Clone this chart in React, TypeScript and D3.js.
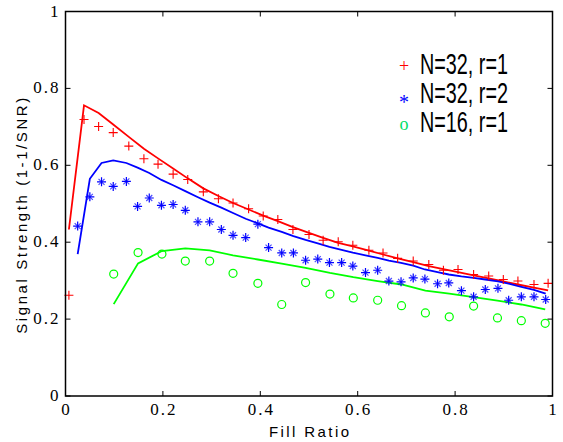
import React from 'react';
import * as d3 from 'd3';

// fill ratio positions of each series
const redX = [0.007, 0.038, 0.068, 0.098, 0.130, 0.161, 0.190, 0.221, 0.251, 0.283, 0.314, 0.344, 0.376, 0.406, 0.436, 0.467, 0.500, 0.529, 0.560, 0.590, 0.623, 0.652, 0.682, 0.714, 0.746, 0.776, 0.806, 0.838, 0.869, 0.899, 0.929, 0.962, 0.991];
const redMarks = [0.262, 0.719, 0.701, 0.685, 0.650, 0.617, 0.603, 0.577, 0.563, 0.531, 0.513, 0.502, 0.487, 0.468, 0.459, 0.433, 0.420, 0.405, 0.401, 0.392, 0.379, 0.372, 0.358, 0.351, 0.342, 0.327, 0.329, 0.316, 0.312, 0.303, 0.299, 0.290, 0.293];
const redLine = [0.433, 0.756, 0.736, 0.706, 0.674, 0.643, 0.618, 0.592, 0.566, 0.540, 0.520, 0.502, 0.485, 0.469, 0.455, 0.439, 0.424, 0.411, 0.398, 0.389, 0.378, 0.368, 0.358, 0.348, 0.338, 0.330, 0.322, 0.314, 0.306, 0.298, 0.290, 0.282, 0.275];

const blueX = [0.025, 0.050, 0.074, 0.098, 0.125, 0.148, 0.172, 0.197, 0.221, 0.246, 0.272, 0.296, 0.320, 0.344, 0.370, 0.395, 0.417, 0.444, 0.468, 0.493, 0.518, 0.542, 0.567, 0.590, 0.616, 0.641, 0.664, 0.689, 0.714, 0.738, 0.764, 0.787, 0.813, 0.838, 0.862, 0.888, 0.910, 0.936, 0.962, 0.986];
const blueMarks = [0.442, 0.518, 0.557, 0.545, 0.558, 0.493, 0.515, 0.496, 0.498, 0.483, 0.453, 0.453, 0.433, 0.418, 0.412, 0.447, 0.386, 0.372, 0.372, 0.353, 0.356, 0.347, 0.347, 0.338, 0.321, 0.327, 0.299, 0.297, 0.307, 0.304, 0.292, 0.294, 0.274, 0.258, 0.277, 0.280, 0.249, 0.258, 0.258, 0.251];
const blueLine = [0.369, 0.565, 0.606, 0.613, 0.606, 0.594, 0.580, 0.562, 0.548, 0.533, 0.517, 0.503, 0.490, 0.476, 0.461, 0.449, 0.438, 0.427, 0.416, 0.406, 0.397, 0.388, 0.380, 0.373, 0.366, 0.359, 0.352, 0.346, 0.339, 0.329, 0.322, 0.316, 0.311, 0.307, 0.303, 0.298, 0.292, 0.284, 0.276, 0.266];

const greenX = [0.099, 0.149, 0.198, 0.246, 0.296, 0.344, 0.395, 0.444, 0.493, 0.543, 0.591, 0.641, 0.690, 0.739, 0.788, 0.838, 0.887, 0.936, 0.985];
const greenMarks = [0.317, 0.373, 0.369, 0.351, 0.351, 0.319, 0.293, 0.238, 0.295, 0.265, 0.255, 0.249, 0.235, 0.216, 0.206, 0.234, 0.203, 0.196, 0.189];
const greenLine = [0.239, 0.345, 0.377, 0.384, 0.379, 0.366, 0.355, 0.344, 0.333, 0.320, 0.309, 0.299, 0.290, 0.274, 0.266, 0.257, 0.248, 0.238, 0.225];

const ticks = [0, 0.2, 0.4, 0.6, 0.8, 1];
const tickLabels = ['0', '0.2', '0.4', '0.6', '0.8', '1'];
const legendLabels = ['N=32, r=1', 'N=32, r=2', 'N=16, r=1'];
const legendGlyphs = ['+', '*', 'o'];

const W = 563, H = 442;
const left = 65.5, right = 552.5, top = 11.5, bottom = 396;

const RED = '#ff0000', BLUE = '#0000ff', GREEN = '#00ff00';
const SERIF = "'Times New Roman', 'Liberation Serif', 'DejaVu Serif', serif";
const SANS = "Arial, 'Liberation Sans', sans-serif";

const App = () => {
  const x = d3.scaleLinear().domain([0, 1]).range([left, right]);
  const y = d3.scaleLinear().domain([0, 1]).range([bottom, top]);

  const line = d3.line<[number, number]>()
    .x(d => x(d[0]))
    .y(d => y(d[1]));

  const zip = (xs: number[], ys: number[]) => xs.map((v, i) => [v, ys[i]] as [number, number]);

  return (
    <svg width={W} height={H} style={{ position: 'absolute', left: 0, top: 0, background: '#fff' }}>
      <rect x={0} y={0} width={W} height={H} fill="#fff" />

      {/* lines */}
      <path d={line(zip(redX, redLine)) || ''} fill="none" stroke={RED} strokeWidth={1.8} />
      <path d={line(zip(blueX, blueLine)) || ''} fill="none" stroke={BLUE} strokeWidth={1.8} />
      <path d={line(zip(greenX, greenLine)) || ''} fill="none" stroke={GREEN} strokeWidth={1.8} />

      {/* red plus markers */}
      {redX.map((v, i) => {
        const cx = x(v), cy = y(redMarks[i]);
        return <path key={'r' + i} d={`M${cx - 4.5},${cy}H${cx + 4.5}M${cx},${cy - 4.5}V${cy + 4.5}`} stroke={RED} strokeWidth={1.1} />;
      })}

      {/* blue asterisk markers */}
      {blueX.map((v, i) => {
        const cx = x(v), cy = y(blueMarks[i]);
        return (
          <g key={'b' + i} stroke={BLUE}>
            <path d={`M${cx - 4.5},${cy}H${cx + 4.5}M${cx},${cy - 4.5}V${cy + 4.5}`} strokeWidth={1.2} />
            <path d={`M${cx - 3},${cy - 3}L${cx + 3},${cy + 3}M${cx - 3},${cy + 3}L${cx + 3},${cy - 3}`} strokeWidth={1.2} strokeOpacity={0.7} />
          </g>
        );
      })}

      {/* green circle markers */}
      {greenX.map((v, i) => (
        <circle key={'g' + i} cx={x(v)} cy={y(greenMarks[i])} r={4} fill="none" stroke={GREEN} strokeWidth={1.2} />
      ))}

      {/* box */}
      <rect x={left} y={top} width={right - left} height={bottom - top} fill="none" stroke="#000" strokeWidth={1.5} />

      {/* ticks */}
      {ticks.map(t => (
        <g key={'t' + t} stroke="#000" strokeWidth={1}>
          <line x1={x(t)} x2={x(t)} y1={bottom} y2={bottom - 5} />
          <line x1={x(t)} x2={x(t)} y1={top} y2={top + 5} />
          <line x1={left} x2={left + 5} y1={y(t)} y2={y(t)} />
          <line x1={right} x2={right - 5} y1={y(t)} y2={y(t)} />
        </g>
      ))}

      {/* tick labels */}
      {ticks.map((t, i) => (
        <text key={'xl' + t} x={x(t) + 1} y={bottom + 19} textAnchor="middle" fontFamily={SERIF} fontSize={17} letterSpacing={2}>{tickLabels[i]}</text>
      ))}
      {ticks.map((t, i) => (
        <text key={'yl' + t} x={left - 5} y={y(t) + 5} textAnchor="end" fontFamily={SERIF} fontSize={17} letterSpacing={2}>{tickLabels[i]}</text>
      ))}

      {/* axis labels */}
      <text x={x(0.5)} y={437} textAnchor="middle" fontFamily={SANS} fontSize={15} textLength={80} lengthAdjust="spacing">Fill Ratio</text>
      <text transform={`translate(27,${y(0.5) + 12}) rotate(-90)`} textAnchor="middle" fontFamily={SANS} fontSize={15} textLength={236} lengthAdjust="spacing">Signal Strength (1-1/SNR)</text>

      {/* legend */}
      {legendLabels.map((lab, i) => (
        <g key={'lg' + i}>
          <text x={404} y={72 + i * 29} textAnchor="middle" fontFamily={SERIF} fontSize={i === 1 ? 20 : 18}
            fill={[RED, BLUE, '#00dd66'][i]} dy={i === 1 ? 8 : 0}>{legendGlyphs[i]}</text>
          <text x={420} y={73.5 + i * 29} fontFamily={SANS} fontSize={29} textLength={88} lengthAdjust="spacingAndGlyphs" fill="#000">{lab}</text>
        </g>
      ))}
    </svg>
  );
};

export default App;
